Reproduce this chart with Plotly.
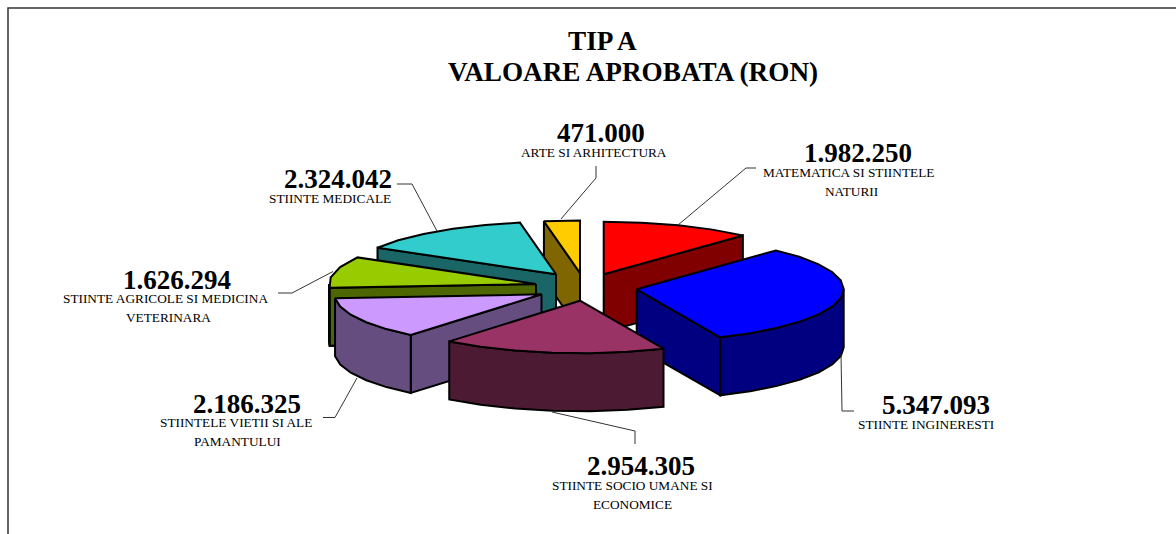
import numpy as np
import plotly.graph_objects as go

categories = ["MATEMATICA SI STIINTELE<br>NATURII", "STIINTE INGINERESTI",
              "STIINTE SOCIO UMANE SI<br>ECONOMICE", "STIINTELE VIETII SI ALE<br>PAMANTULUI",
              "STIINTE AGRICOLE SI MEDICINA<br>VETERINARA", "STIINTE MEDICALE", "ARTE SI ARHITECTURA"]
values = [1982250, 5347093, 2954305, 2186325, 1626294, 2324042, 471000]
top_colors = ["#FF0000", "#0000FF", "#993366", "#CC99FF", "#99CC00", "#33CCCC", "#FFCC00"]
side_colors = ["#800000", "#000080", "#4D1A33", "#664D80", "#4D6600", "#1A6666", "#806600"]

# exploded-pie layout, in the pixel-sized axes
explode_x = [13.7, 46.7, -10, -48.5, -54, -34, -10]
explode_y = [-15.7, -0.7, 10.7, 4.3, -6, -15.7, -17]
CX, CY, A, B, DEPTH, STEP = 590, 290, 207, 52.5, 58, 9
draw_order = [6, 0, 5, 4, 1, 3, 2]

value_pos = [(858, 153), (936, 405), (641, 466), (247, 403.5), (177, 280), (338, 179), (601, 133)]
label_pos = [[(848, 172.5), (851, 191.5)], [(925.5, 424.5)], [(632, 485.5), (632, 504)], [(236, 422.5), (237, 441.5)],
             [(165, 298.5), (168, 317.5)], [(329.5, 198.5)], [(594, 152)]]
leaders = [((678, 225), (746, 168), (756, 168)), ((841, 354), (842, 411), (854, 411)),
           ((552, 412), (635, 431), (635, 444)), ((357, 378), (335, 417.5), (323, 417.5)),
           ((333, 271.5), (292, 293), (278, 293)), ((437, 231), (412, 184), (397, 184)),
           ((561, 219), (596, 178), (596, 166))]

frac = np.array(values) / sum(values)
ends = np.cumsum(frac) * 360
starts = ends - frac * 360

fig = go.Figure()

def poly(xs, ys, color):
    fig.add_trace(go.Scatter(x=xs, y=ys, mode="lines", fill="toself", fillcolor=color,
                             line=dict(color="#000000", width=2), hoverinfo="skip", showlegend=False))

def arc(cx, cy, a0, a1):
    n = max(int(abs(a1 - a0) / STEP), 1)
    t = np.radians(np.linspace(a0, a1, n + 1))
    return cx + A * np.sin(t), cy - B * np.cos(t)

for i in draw_order:
    s, e = starts[i], ends[i]
    cx, cy = CX + explode_x[i], CY + explode_y[i]
    # radial walls turned towards the viewer
    for ang, visible in ((e, np.sin(np.radians(e)) > 0), (s, np.sin(np.radians(s)) < -0.01)):
        if visible:
            ox, oy = arc(cx, cy, ang, ang)
            poly([cx, ox[0], ox[0], cx, cx], [cy, oy[0], oy[0] + DEPTH, cy + DEPTH, cy], side_colors[i])
    # outer wall, front half of the rim only
    v0, v1 = max(s, 90), min(e, 270)
    if v1 > v0:
        ax, ay = arc(cx, cy, v0, v1)
        poly(np.r_[ax, ax[::-1], ax[0]], np.r_[ay, ay[::-1] + DEPTH, ay[0]], side_colors[i])
    ax, ay = arc(cx, cy, s, e)
    poly(np.r_[cx, ax, cx], np.r_[cy, ay, cy], top_colors[i])

for pts in leaders:
    fig.add_trace(go.Scatter(x=[q[0] for q in pts], y=[q[1] for q in pts], mode="lines",
                             line=dict(color="#333333", width=1), hoverinfo="skip", showlegend=False))

SERIF = "Liberation Serif"
def text(x, y, s, size, bold=False):
    fig.add_annotation(x=x, y=y, xref="x", yref="y", text=f"<b>{s}</b>" if bold else s, showarrow=False,
                       xanchor="center", yanchor="middle", align="center", borderpad=0, borderwidth=0,
                       font=dict(family=SERIF, size=size, color="#000000"))

for cat, val, vp, lps in zip(categories, values, value_pos, label_pos):
    text(vp[0], vp[1], f"{val:,}".replace(",", "."), 27, True)
    for line, lp in zip(cat.split("<br>"), lps):
        text(lp[0], lp[1], line, 13.3)
text(602, 41, "TIP A", 27.2, True)
text(633, 72, "VALOARE APROBATA (RON)", 27.2, True)

# frame
fig.add_trace(go.Scatter(x=[8, 8, 1176], y=[534, 8, 8], mode="lines",
                         line=dict(color="#333333", width=1.5), hoverinfo="skip", showlegend=False))

fig.update_layout(width=1176, height=534, margin=dict(l=0, r=0, t=0, b=0), paper_bgcolor="white",
                  plot_bgcolor="white", showlegend=False,
                  xaxis=dict(range=[0, 1176], visible=False, fixedrange=True),
                  yaxis=dict(range=[534, 0], visible=False, fixedrange=True))
fig.write_html("out.html", post_script="document.body.style.margin='0';",
               config=dict(displayModeBar=False))
